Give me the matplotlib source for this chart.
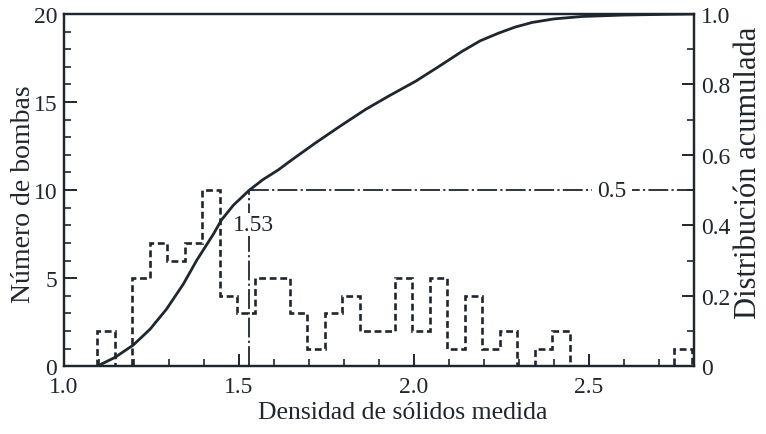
import numpy as np
import matplotlib
matplotlib.use("Agg")
import matplotlib.pyplot as plt
from matplotlib.ticker import MultipleLocator

# ---- data ----
bin_start = 1.095
bin_width = 0.05
counts = [2, 0, 5, 7, 6, 7, 10, 4, 3, 5, 5, 3, 1, 3, 4, 2, 2, 5, 2, 5,
          1, 4, 1, 2, 0, 1, 2, 0, 0, 0, 0, 0, 0, 1]

cum_x = [1.095, 1.146, 1.198, 1.246, 1.293, 1.341, 1.379, 1.427, 1.45,
         1.484, 1.53, 1.569, 1.612, 1.65, 1.719, 1.79, 1.862, 1.93, 2.005,
         2.07, 2.138, 2.19, 2.243, 2.29, 2.338, 2.40, 2.481, 2.60, 2.72, 2.80]
cum_y = [0.0, 0.025, 0.06, 0.105, 0.162, 0.233, 0.30, 0.375, 0.415,
         0.457, 0.50, 0.53, 0.557, 0.585, 0.634, 0.682, 0.729, 0.768, 0.809,
         0.85, 0.894, 0.924, 0.946, 0.963, 0.976, 0.986, 0.993, 0.997, 0.999, 1.0]

median_x = 1.53
median_p = 0.5
median_label = "1.53"
p_label = "0.5"

xticks = [1.0, 1.5, 2.0, 2.5]
xticklabels = ["1.0", "1.5", "2.0", "2.5"]
yticks_left = [0, 5, 10, 15, 20]
yticks_right = [0, 0.2, 0.4, 0.6, 0.8, 1.0]
yticklabels_right = ["0", "0.2", "0.4", "0.6", "0.8", "1.0"]

# ---- style ----
ink = "#20262e"
plt.rcParams["font.family"] = ["Liberation Serif", "DejaVu Serif"]

fig = plt.figure(figsize=(7.66, 4.35), dpi=100)
ax = fig.add_axes([0.0836, 0.156, 0.822, 0.8095])
ax2 = ax.twinx()

edges = bin_start + bin_width * np.arange(len(counts) + 1)
ax.stairs(counts, edges, baseline=0, color=ink, lw=1.9,
          linestyle=(0, (2.6, 1.4)), zorder=3)

ax2.plot(cum_x, cum_y, color=ink, lw=2.0, solid_capstyle="round",
         solid_joinstyle="round", zorder=4)

dd = (0, (11, 1.8, 1.2, 1.8))
ax2.plot([median_x, 2.8], [median_p, median_p], color=ink, lw=1.3,
         linestyle=dd, zorder=2)
ax2.plot([median_x, median_x], [0, median_p], color=ink, lw=1.3,
         linestyle=dd, zorder=2)
ax2.text(1.541, 0.402, median_label, fontsize=17, color=ink, ha="center",
         va="center", bbox=dict(facecolor="white", edgecolor="none", pad=0.5),
         zorder=5)
ax2.text(2.566, 0.5, p_label, fontsize=17, color=ink, ha="center", va="center",
         bbox=dict(facecolor="white", edgecolor="none", pad=4), zorder=5)

ax.set_xlim(1.0, 2.8)
ax.set_ylim(0, 20)
ax2.set_ylim(0, 1.0)

ax.set_xticks(xticks)
ax.set_xticklabels(xticklabels)
ax.xaxis.set_minor_locator(MultipleLocator(0.1))
ax.set_yticks(yticks_left)
ax.yaxis.set_minor_locator(MultipleLocator(1))
ax2.set_yticks(yticks_right)
ax2.set_yticklabels(yticklabels_right)
ax2.yaxis.set_minor_locator(MultipleLocator(0.1))

for a in (ax, ax2):
    for s in a.spines.values():
        s.set_linewidth(1.6)
        s.set_color(ink)
ax.tick_params(axis="both", which="major", direction="in", length=9, width=1.4,
               colors=ink, labelsize=17, pad=5)
ax.tick_params(axis="x", which="major", pad=7)
ax.tick_params(axis="both", which="minor", direction="in", length=5, width=1.2,
               colors=ink)
ax.tick_params(axis="x", top=False, which="both")
ax2.tick_params(axis="y", which="major", direction="in", length=9, width=1.4,
                colors=ink, labelsize=17, pad=5)
ax2.tick_params(axis="y", which="minor", direction="in", length=5, width=1.2,
                colors=ink)

ax.set_xlabel("Densidad de sólidos medida", fontsize=18.5, color=ink)
ax.set_ylabel("Número de bombas", fontsize=20, color=ink)
ax2.set_ylabel("Distribución acumulada", fontsize=22, color=ink)

ax.xaxis.label.set_va("center")
ax.xaxis.set_label_coords(0.538, -0.13)
ax.yaxis.label.set_va("center")
ax.yaxis.set_label_coords(-0.065, 0.49)
ax2.yaxis.label.set_va("center")
ax2.yaxis.set_label_coords(1.087, 0.552)

fig.savefig("out.png", dpi=100)
